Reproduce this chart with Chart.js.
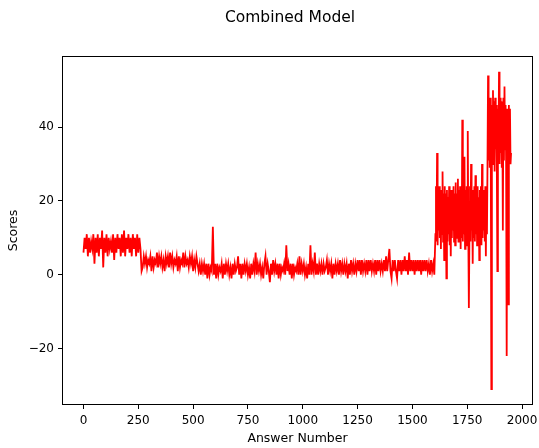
<!DOCTYPE html>
<html>
<head>
<meta charset="utf-8">
<script src="https://cdn.jsdelivr.net/npm/chart.js@4.4.1/dist/chart.umd.min.js"></script>
<style>
  html, body { margin: 0; padding: 0; background: #fff; }
  #wrap { width: 539px; height: 448px; }
</style>
</head>
<body>
<div id="wrap"><canvas id="chart" width="539" height="448"></canvas></div>
<script>
const segStarts = [0, 270, 535, 1070, 1605, 1842.5];
const segSteps = [5, 5, 5, 5, 2.5, 2.5];

// answers 0-265: high band around 8
const segA = [6,10,7,11,5,10,6,9,7,11, 3,10,6,11,5,10,7,12,2,10, 6,11,5,10,7,9,6,11,4,10,
  6,11,7,10,5,11,6,12,5,10, 7,11,6,10,5,11,7,10,5,11, 6,10,7,1];
// answers 270-530: band around 3
const segB = [2,5,3,5,2,4,3,5,1,5, 2,4,3,6,2,5,3,5,2,4, 1,5,3,5,2,6,3,5,2,4,
  3,5,1,5,2,4,3,6,2,5, 3,4,2,5,3,5,1,4,2,5, 3,1,3];
// answers 535-1065: low band, spike near 590
const segC1 = [0,3,1,3,0,3,-1,3,0,2, 1,13,0,3,-1,3,0,2,1,3, -1,3,0,3,1,3,0,2,-1,3,
  0,3,1,2,5,0,3,-1,3,0, 3,1,3,0,2,-1,3,0,3,1, 6,0,3,1,3,0,2,-1,3,5,
  0,3,1,-2,3,0,4,1,3,0, 3,-1,3,0,2,1,3,0,8,1, 3,0,3,-1,3,0,2,1,3,0,
  5,0,3,1,3,0,2,-1,3,0, 8,0,3,1,6,0,3];
// answers 1070-1600: low band, slightly higher later
const segC2 = [0,3,1,3,0,3,1,2,4,0, 3,1,3,-1,3,0,3,1,3,0, 4,1,3,0,3,1,3,-1,3,0,
  4,1,3,0,3,1,4,1,4,0, 4,1,3,1,4,0,4,1,4,1, 3,1,4,0,4,1,4,1,3,1,
  4,1,5,1,4,7,1,-1,4,1, 4,1,-1,4,1,4,0,4,1,5, 1,4,0,6,1,4,1,4,0,4,
  1,4,1,4,0,4,1,4,1,4, 1,3,0,4,1,3,0];
// answers 1605-1840: wide noisy band
const segD = [11,24,9,33,8,22,12,24,10,21, 7,23,11,28,9,22,4,24,10,22,
  -1,23,9,21,11,24,8,22,5,23, 10,21,12,24,9,22,8,25,11,22,
  10,26,9,23,12,24,7,22,10,42, 9,24,11,32,7,23,10,24,8,39,
  11,-9,10,24,9,30,12,22,3,23, 10,24,9,27,11,22,8,24,10,21,
  4,23,11,24,8,30,10,23,12,22, 9,24,5,23,11];
// answers 1842.5-1950: highest band with deep drops
const segE = [30,54,31,47,29,48,33,-31,46,30, 50,32,47,28,48,34,46,30,1,45,
  32,55,30,48,33,47,29,46,12,48, 31,51,34,46,30,-22,45,31,-8,46, 33,45,30,33];

const segments = [segA, segB, segC1, segC2, segD, segE];

const xTicks = [0, 250, 500, 750, 1000, 1250, 1500, 1750, 2000];
const yTicks = [-20, 0, 20, 40];

// build {x,y} points
const points = [];
segments.forEach((seg, i) => {
  seg.forEach((v, j) => points.push({ x: segStarts[i] + j * segSteps[i], y: v }));
});

const FONT = 'DejaVu Sans';
const fmt = v => (v < 0 ? '\u2212' + Math.abs(v) : String(v));

// === Frame around plot area + figure title ===
const framePlugin = {
  id: 'frame',
  afterDraw(chart) {
    const { ctx, chartArea: a } = chart;
    ctx.save();
    ctx.strokeStyle = '#000';
    ctx.lineWidth = 1;
    ctx.strokeRect(a.left + 0.5, a.top + 0.5, a.right - a.left - 1, a.bottom - a.top - 1);
    ctx.fillStyle = '#000';
    ctx.font = '15.5px "' + FONT + '"';
    ctx.textAlign = 'center';
    ctx.textBaseline = 'middle';
    ctx.fillText('Combined Model', 290, 18);
    ctx.restore();
  }
};

new Chart(document.getElementById('chart').getContext('2d'), {
  type: 'line',
  data: {
    datasets: [{
      label: 'Scores',
      data: points,
      borderColor: '#ff0000',
      borderWidth: 1.8,
      pointRadius: 0,
      tension: 0,
      fill: false
    }]
  },
  options: {
    responsive: false,
    animation: false,
    layout: { padding: { left: 0, right: 6, top: 56, bottom: 0 } },
    plugins: {
      legend: { display: false },
      tooltip: { enabled: false },
      title: { display: false }
    },
    scales: {
      x: {
        type: 'linear',
        min: -98,
        max: 2050,
        afterBuildTicks: s => { s.ticks = xTicks.map(v => ({ value: v })); },
        afterFit: s => { s.height = 43; s.paddingLeft = 0; s.paddingRight = 0; },
        grid: { drawOnChartArea: false, drawTicks: true, tickLength: 4, tickColor: '#000' },
        border: { display: false },
        ticks: { color: '#000', padding: 5, maxRotation: 0, font: { family: FONT, size: 12 }, callback: fmt },
        title: {
          display: true, text: 'Answer Number', color: '#000',
          font: { family: FONT, size: 12.5 }, padding: { top: 0, bottom: 2 }
        }
      },
      y: {
        type: 'linear',
        min: -35.3,
        max: 59.3,
        afterBuildTicks: s => { s.ticks = yTicks.map(v => ({ value: v })); },
        afterFit: s => { s.width = 62; s.paddingTop = 0; s.paddingBottom = 0; },
        grid: { drawOnChartArea: false, drawTicks: true, tickLength: 4, tickColor: '#000' },
        border: { display: false },
        ticks: { color: '#000', padding: 4, font: { family: FONT, size: 12 }, callback: fmt },
        title: {
          display: true, text: 'Scores', color: '#000',
          font: { family: FONT, size: 12.5 }, padding: { top: 6, bottom: 0 }
        }
      }
    }
  },
  plugins: [framePlugin]
});
</script>
</body>
</html>
